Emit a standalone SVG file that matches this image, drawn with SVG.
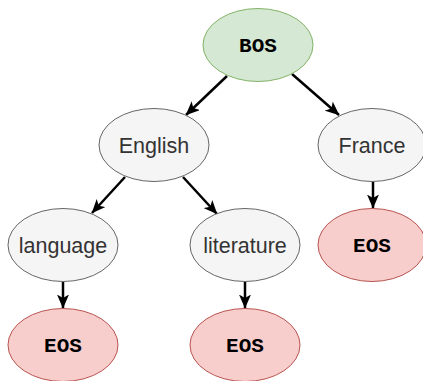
<svg xmlns="http://www.w3.org/2000/svg" width="423" height="381" viewBox="0 0 423 381">
<style>
.gray{fill:#f5f5f5;stroke:#666666;stroke-width:1}
.green{fill:#d5e8d4;stroke:#82b366;stroke-width:1}
.red{fill:#f8cecc;stroke:#b85450;stroke-width:1}
.word{font-family:"Liberation Sans",Arial,Helvetica,sans-serif;font-size:21.5px;fill:#333333;text-anchor:middle}
.code{font-family:"Liberation Mono","Courier New",monospace;font-size:21px;font-weight:bold;fill:#000000;text-anchor:middle}
.edge{stroke:#000000;stroke-width:2.5;fill:none;marker-end:url(#arr)}
</style>
<defs>
<marker id="arr" viewBox="0 0 14 12" refX="13.5" refY="6" markerWidth="14" markerHeight="12" markerUnits="userSpaceOnUse" orient="auto">
<path d="M0,0 L14,6 L0,12 L3.5,6 Z" fill="#000000"/>
</marker>
</defs>
<g id="connectors">
<line class="edge" x1="227" y1="76" x2="186" y2="115"/>
<line class="edge" x1="292" y1="74" x2="339" y2="115"/>
<line class="edge" x1="125" y1="177" x2="92" y2="213"/>
<line class="edge" x1="183" y1="177" x2="217" y2="214"/>
<line class="edge" x1="373" y1="182" x2="373" y2="208"/>
<line class="edge" x1="63" y1="282" x2="63" y2="308"/>
<line class="edge" x1="245" y1="282" x2="245" y2="308"/>
</g>
<g id="bos">
<ellipse class="green" cx="258" cy="45" rx="55" ry="36.5"/>
<text class="code" x="258" y="52">BOS</text>
</g>
<g id="english">
<ellipse class="gray" cx="154" cy="145" rx="55" ry="36.5"/>
<text class="word" x="154" y="153">English</text>
</g>
<g id="france">
<ellipse class="gray" cx="372" cy="145" rx="54" ry="36.5"/>
<text class="word" x="372" y="153">France</text>
</g>
<g id="language">
<ellipse class="gray" cx="63" cy="245" rx="55" ry="36.5"/>
<text class="word" x="63" y="253">language</text>
</g>
<g id="literature">
<ellipse class="gray" cx="245" cy="245" rx="55" ry="36.5"/>
<text class="word" x="245" y="253">literature</text>
</g>
<g id="eos-france">
<ellipse class="red" cx="372" cy="245" rx="54" ry="36.5"/>
<text class="code" x="372" y="252">EOS</text>
</g>
<g id="eos-language">
<ellipse class="red" cx="63" cy="345" rx="55" ry="36.5"/>
<text class="code" x="63" y="352">EOS</text>
</g>
<g id="eos-literature">
<ellipse class="red" cx="245" cy="345" rx="55" ry="36.5"/>
<text class="code" x="245" y="352">EOS</text>
</g>
</svg>
